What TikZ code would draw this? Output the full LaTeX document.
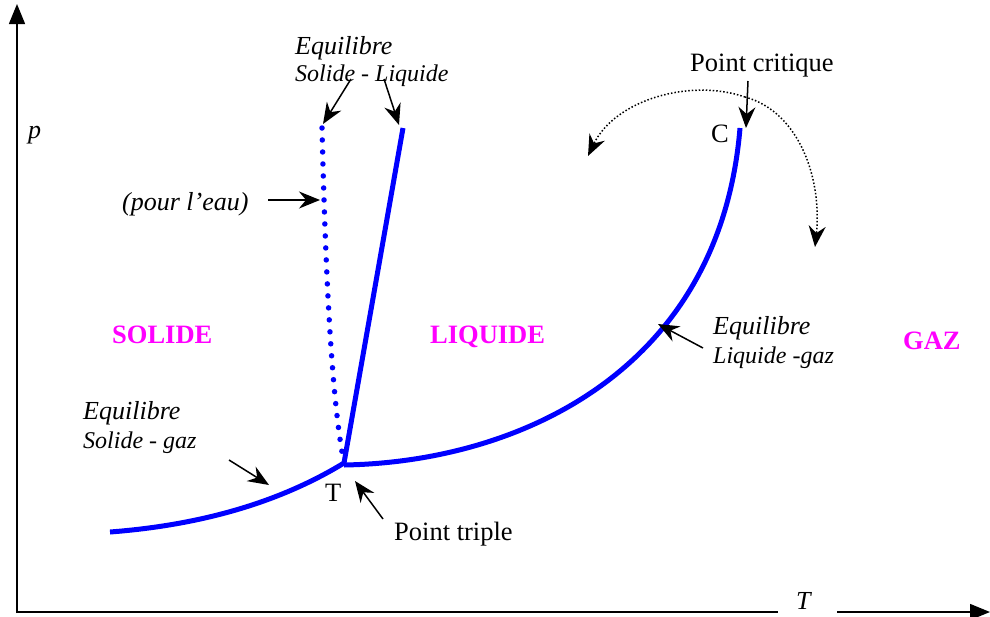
\documentclass[tikz,border=0pt]{standalone}
\usepackage{fontspec}
\setmainfont{Liberation Serif}
\usetikzlibrary{arrows.meta}
\definecolor{curveblue}{RGB}{0,0,255}
\definecolor{phasemag}{RGB}{255,0,255}
\begin{document}
\begin{tikzpicture}[x=1pt,y=-1pt,
  lbl/.style={inner sep=0pt,font=\fontsize{26.5}{30}\selectfont},
  lbli/.style={inner sep=0pt,font=\fontsize{26}{30}\selectfont\itshape},
  lblsm/.style={inner sep=0pt,font=\fontsize{24}{28}\selectfont\itshape},
  phase/.style={inner sep=0pt,font=\fontsize{26.5}{30}\selectfont\bfseries,text=phasemag},
  curve/.style={draw=curveblue,line width=5pt},
  dotcurve/.style={draw=curveblue,line width=5.5pt,line cap=round,dash pattern=on 0pt off 12pt},
  ptr/.style={draw=black,line width=1.5pt,-{Stealth[length=21pt,width=17pt,inset=7pt]}},
  dptr/.style={draw=black,line width=1.5pt,dotted,-{Stealth[length=21pt,width=17pt,inset=7pt]}},
  axis/.style={draw=black,line width=1.5pt},
  axisarr/.style={axis,-{Triangle[length=20pt,width=16pt]}}]
\path[use as bounding box] (0,0) rectangle (990,616);

% axes
\coordinate (yb) at (17,613);
\coordinate (yg1) at (17,103);
\coordinate (yg2) at (17,152);
\coordinate (yt) at (17,4);
\coordinate (xl) at (16,612);
\coordinate (xg1) at (778,612);
\coordinate (xg2) at (837,612);
\coordinate (xr) at (990,612);
\draw[axis] (yb) -- (yg1);
\draw[axisarr] (yg2) -- (yt);
\draw[axis] (xl) -- (xg1);
\draw[axisarr] (xg2) -- (xr);
\node[lbli,anchor=base west] (plab) at (28,138) {p};
\node[lbli,anchor=base west] (tlab) at (796,609) {T};

% curves
\coordinate (sg0) at (110,532);
\coordinate (TP) at (344,463);
\coordinate (TP2) at (344,465);
\coordinate (CP) at (740,128);
\coordinate (SLtop) at (403,128);
\coordinate (DTtop) at (322,128);
\coordinate (DTbot) at (342,452);
\draw[dotcurve] (DTtop) .. controls (325,250) and (330,380) .. (DTbot);
\draw[curve] (sg0) .. controls (215,524) and (290,496) .. (TP);
\draw[curve] (TP2) .. controls (520,462) and (720,370) .. (CP);
\draw[curve,line join=miter] (SLtop) -- (TP);

% phase labels
\node[phase,anchor=base west] (sol) at (112,343) {SOLIDE};
\node[phase,anchor=base west] (liq) at (430,343) {LIQUIDE};
\node[phase,anchor=base west] (gaz) at (903,349) {GAZ};

% top labels
\node[lbli,anchor=base west] (eq1) at (295,54) {Equilibre};
\node[lblsm,anchor=base west] (sl) at (295,81) {Solide - Liquide};
\coordinate (a1s) at (351,79);
\coordinate (a1e) at (323,124);
\coordinate (a2s) at (384,79);
\coordinate (a2e) at (399,125);
\draw[ptr] (a1s) -- (a1e);
\draw[ptr] (a2s) -- (a2e);

\node[lbli,anchor=base west] (eau) at (122,210) {(pour l'eau)};
\coordinate (a3s) at (268,200);
\coordinate (a3e) at (320,200);
\draw[ptr] (a3s) -- (a3e);

% bottom-left labels
\node[lbli,anchor=base west] (eq2) at (83,419) {Equilibre};
\node[lblsm,anchor=base west] (sg) at (83,448) {Solide - gaz};
\coordinate (a4s) at (229,460);
\coordinate (a4e) at (269,485);
\draw[ptr] (a4s) -- (a4e);

% triple point
\node[lbl,anchor=base west] (Tn) at (325,501) {T};
\node[lbl,anchor=base west] (ptrip) at (394,540) {Point triple};
\coordinate (a5s) at (383,519);
\coordinate (a5e) at (355,481);
\draw[ptr] (a5s) -- (a5e);

% critical point
\node[lbl,anchor=base west] (Cn) at (711,142) {C};
\node[lbl,anchor=base west] (pcrit) at (690,71) {Point critique};
\coordinate (a6s) at (748,81);
\coordinate (a6e) at (746,128);
\draw[ptr] (a6s) -- (a6e);
\coordinate (arcm) at (745,97);
\coordinate (arcl) at (588,156);
\coordinate (arcr) at (815,247);
\draw[dptr] (arcm) .. controls (690,78) and (615,100) .. (arcl);
\draw[dptr] (arcm) .. controls (800,112) and (822,180) .. (arcr);

% liquid-gas label
\node[lbli,anchor=base west] (eq3) at (713,334) {Equilibre};
\node[lblsm,anchor=base west] (lg) at (713,363) {Liquide -gaz};
\coordinate (a7s) at (703,348);
\coordinate (a7e) at (658,324);
\draw[ptr] (a7s) -- (a7e);
\end{tikzpicture}
\end{document}
